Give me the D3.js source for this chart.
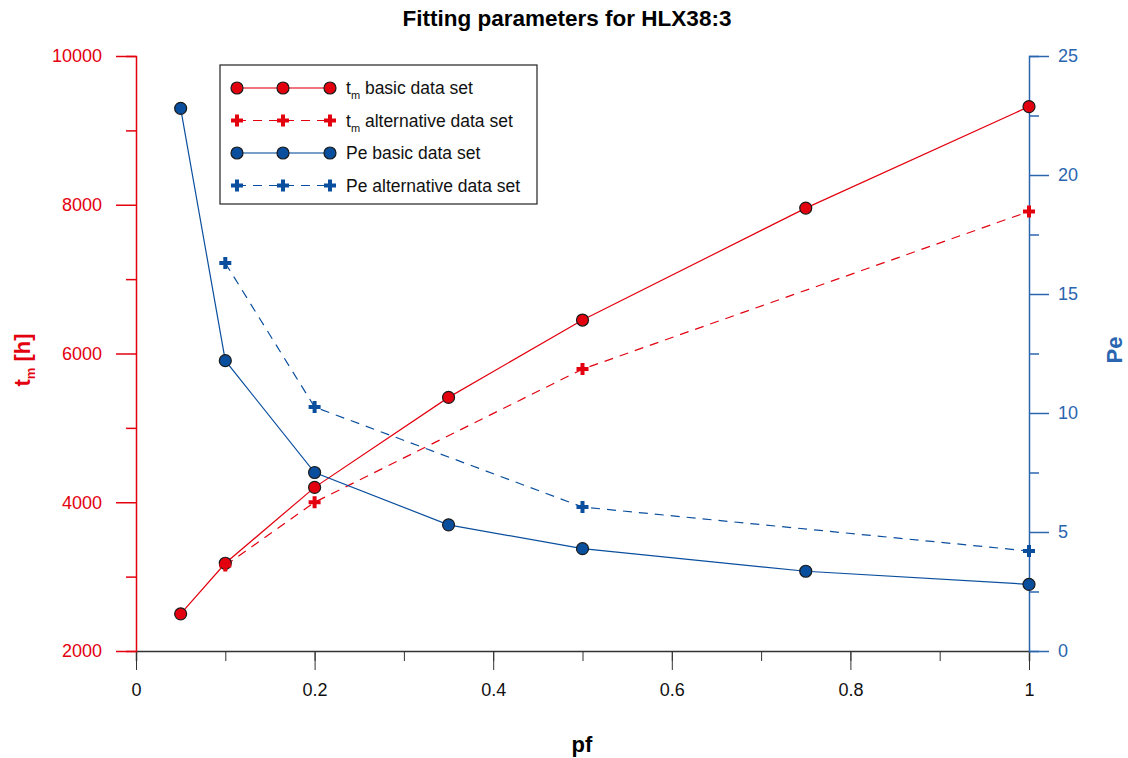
<!DOCTYPE html>
<html>
<head>
<meta charset="utf-8">
<script src="https://cdn.jsdelivr.net/npm/d3@7"></script>
<style>
  body { margin: 0; background: #fff; }
  svg { font-family: "Liberation Sans", Arial, sans-serif; }
</style>
</head>
<body>
<div id="chart"></div>
<script>
// pf values
let pf_basic = [0.05, 0.1, 0.2, 0.35, 0.5, 0.75, 1.0];
let pf_alt = [0.1, 0.2, 0.5, 1.0];
// tm [h]
let tm_basic = [2500, 3180, 4200, 5410, 6450, 7955, 9320];
let tm_alt = [3150, 4000, 5790, 7910];
// Pe
let pe_basic = [22.8, 12.2, 7.5, 5.3, 4.3, 3.35, 2.8];
let pe_alt = [16.3, 10.25, 6.05, 4.2];

let x_ticks = [0, 0.2, 0.4, 0.6, 0.8, 1];
let tm_ticks = [2000, 4000, 6000, 8000, 10000];
let pe_ticks = [0, 5, 10, 15, 20, 25];

let RED = "#e3000f";
let BLUE = "#0a4f9e";
let AXBLUE = "#2a66b0";
let FONT = "Liberation Sans, Arial, sans-serif";

let W = 1128, H = 758;
let m = {left: 136, right: 1029, top: 56, bottom: 651};

let svg = d3.select("#chart").append("svg").attr("width", W).attr("height", H);

let x = d3.scaleLinear().domain([0, 1]).range([m.left, m.right]);
let yL = d3.scaleLinear().domain([2000, 10000]).range([m.bottom, m.top]);
let yR = d3.scaleLinear().domain([0, 25]).range([m.bottom, m.top]);

// title
svg.append("text").attr("x", 567).attr("y", 26).attr("text-anchor", "middle")
    .attr("font-size", 22.5).attr("font-weight", "bold").text("Fitting parameters for HLX38:3");

// bottom axis
let gx = svg.append("g").attr("transform", `translate(0,${m.bottom})`);
gx.call(d3.axisBottom(x).tickValues(d3.range(0, 1.01, 0.1)).tickSize(10).tickFormat(""));
gx.call(g => g.selectAll(".tick line").attr("stroke", "#333"));
gx.append("g").call(d3.axisBottom(x).tickValues(x_ticks).tickSize(19).tickFormat(d3.format("")))
    .call(g => g.select(".domain").remove())
    .call(g => g.selectAll(".tick line").attr("stroke", "#333"))
    .call(g => g.selectAll("text").attr("font-size", 18).attr("fill", "#111").attr("dy", "1.3em")
        .attr("font-family", FONT));
gx.select(".domain").attr("stroke", "#333").attr("stroke-width", 1.5);

// left axis
let gl = svg.append("g").attr("transform", `translate(${m.left},0)`);
gl.call(d3.axisLeft(yL).tickValues(d3.range(3000, 10000, 2000)).tickSize(10).tickFormat(""));
gl.append("g").call(d3.axisLeft(yL).tickValues(tm_ticks).tickSize(20).tickPadding(14).tickFormat(d3.format("")))
    .call(g => g.select(".domain").remove())
    .call(g => g.selectAll("text").attr("font-size", 18).attr("font-family", FONT));
gl.selectAll("path, line").attr("stroke", RED).attr("stroke-width", 1.5);
gl.selectAll("text").attr("fill", RED);

// right axis
let gr = svg.append("g").attr("transform", `translate(${m.right},0)`);
gr.call(d3.axisRight(yR).tickValues(d3.range(2.5, 25, 5)).tickSize(10).tickFormat(""));
gr.append("g").call(d3.axisRight(yR).tickValues(pe_ticks).tickSize(20).tickPadding(9).tickFormat(d3.format("")))
    .call(g => g.select(".domain").remove())
    .call(g => g.selectAll("text").attr("font-size", 18).attr("font-family", FONT));
gr.selectAll("path, line").attr("stroke", AXBLUE).attr("stroke-width", 1.5);
gr.selectAll("text").attr("fill", AXBLUE);

// axis titles
svg.append("text").attr("x", 582).attr("y", 752).attr("text-anchor", "middle")
    .attr("font-size", 22).attr("font-weight", "bold").text("pf");
let lt = svg.append("text").attr("transform", "translate(30,360) rotate(-90)")
    .attr("text-anchor", "middle").attr("font-size", 22).attr("font-weight", "bold").attr("fill", RED);
lt.append("tspan").text("t");
lt.append("tspan").attr("font-size", 13).attr("dy", 5).text("m");
lt.append("tspan").attr("dy", -5).text(" [h]");
svg.append("text").attr("transform", "translate(1122,350) rotate(-90)")
    .attr("text-anchor", "middle").attr("font-size", 22).attr("font-weight", "bold").attr("fill", AXBLUE).text("Pe");

// series
let series = [
    {xs: pf_basic, ys: tm_basic, y: yL, color: RED, dash: null, mark: "circle"},
    {xs: pf_alt, ys: tm_alt, y: yL, color: RED, dash: "9,7", mark: "cross"},
    {xs: pf_basic, ys: pe_basic, y: yR, color: BLUE, dash: null, mark: "circle"},
    {xs: pf_alt, ys: pe_alt, y: yR, color: BLUE, dash: "9,7", mark: "cross"},
];

let cross = d3.symbol().type(d3.symbolCross).size(80);

let drawMark = (g, s, px, py) => {
    if (s.mark === "circle") {
        g.append("circle").attr("cx", px).attr("cy", py).attr("r", 6)
            .attr("fill", s.color).attr("stroke", "#1a1a1a").attr("stroke-width", 1.2);
    } else {
        g.append("path").attr("d", cross).attr("transform", `translate(${px},${py})`)
            .attr("fill", s.color);
    }
};

let plot = svg.append("g");
series.forEach(s => {
    let pts = s.xs.map((v, i) => [x(v), s.y(s.ys[i])]);
    plot.append("path").datum(pts)
        .attr("d", d3.line())
        .attr("fill", "none").attr("stroke", s.color).attr("stroke-width", 1.2)
        .attr("stroke-dasharray", s.dash);
});
series.forEach(s => {
    s.xs.forEach((v, i) => drawMark(plot, s, x(v), s.y(s.ys[i])));
});

// legend
let leg = svg.append("g").attr("transform", "translate(220,65)");
leg.append("rect").attr("width", 317).attr("height", 139)
    .attr("fill", "#fff").attr("stroke", "#222").attr("stroke-width", 1.2);
let labels = [["t", "m", " basic data set"], ["t", "m", " alternative data set"],
    ["Pe basic data set"], ["Pe alternative data set"]];
series.forEach((s, i) => {
    let yy = 23 + i * 32.5;
    leg.append("line").attr("x1", 17).attr("x2", 110).attr("y1", yy).attr("y2", yy)
        .attr("stroke", s.color).attr("stroke-opacity", s.dash ? 1 : 0.55)
        .attr("stroke-width", s.dash ? 1.2 : 2).attr("stroke-dasharray", s.dash);
    [17, 63, 110].forEach(px => drawMark(leg, s, px, yy));
    let t = leg.append("text").attr("x", 126).attr("y", yy + 6).attr("font-size", 17.5).attr("fill", "#111");
    let lab = labels[i];
    if (lab.length === 3) {
        t.append("tspan").text(lab[0]);
        t.append("tspan").attr("font-size", 11).attr("dy", 5).text(lab[1]);
        t.append("tspan").attr("dy", -5).text(lab[2]);
    } else {
        t.text(lab[0]);
    }
});
</script>
</body>
</html>
